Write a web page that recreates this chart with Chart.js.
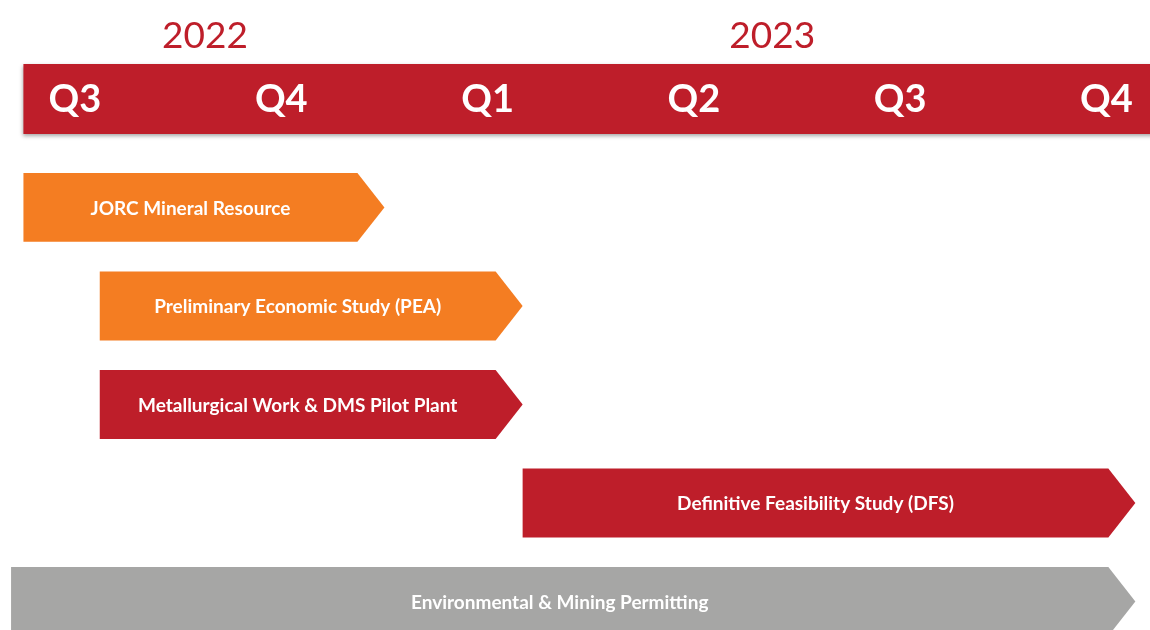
<!DOCTYPE html>
<html>
<head>
<meta charset="utf-8">
<script src="https://cdn.jsdelivr.net/npm/chart.js@4/dist/chart.umd.min.js"></script>
<style>
  html, body { margin: 0; padding: 0; background: #fff; }
  #wrap { width: 1150px; height: 630px; position: relative; }
</style>
</head>
<body>
<div id="wrap"><canvas id="timeline"></canvas></div>
<script>
// Axis: one unit = one quarter, 0 = Q3 2022
const quarters = ['Q3', 'Q4', 'Q1', 'Q2', 'Q3', 'Q4'];
const years = ['2022', '2023'];
const yearAt = [0.63, 3.38];

// Tasks (start / end of arrow tip, in quarters)
const tasks = [
    'JORC Mineral Resource',
    'Preliminary Economic Study (PEA)',
    'Metallurgical Work & DMS Pilot Plant',
    'Definitive Feasibility Study (DFS)',
    'Environmental & Mining Permitting'
];
const starts = [-0.25, 0.12, 0.12, 2.17, -0.31];
const ends = [1.50, 2.17, 2.17, 5.14, 5.14];

const RED = '#BE1E2A';
const ORANGE = '#F47D22';
const GREY = '#A6A6A5';
const taskColors = [ORANGE, ORANGE, RED, RED, GREY];
const TIP = 27; // arrow tip length, px

// red band behind the quarter axis
const bandPlugin = {
    id: 'band',
    beforeDraw(chart) {
        const s = chart.scales.x;
        const ctx = chart.ctx;
        ctx.save();
        ctx.shadowColor = 'rgba(0,0,0,0.35)';
        ctx.shadowBlur = 4;
        ctx.shadowOffsetY = 2;
        ctx.fillStyle = RED;
        const left = s.getPixelForValue(-0.25);
        ctx.fillRect(left, s.top - 1, chart.width - left + 10, s.bottom - s.top + 1);
        ctx.restore();
    }
};

// arrow shaped bars with their labels
const arrowPlugin = {
    id: 'arrows',
    afterDatasetsDraw(chart) {
        const ctx = chart.ctx;
        const meta = chart.getDatasetMeta(0);
        meta.data.forEach((el, i) => {
            const p = el.getProps(['x', 'y', 'base', 'height'], true);
            const top = p.y - p.height / 2;
            const bot = p.y + p.height / 2;
            const neck = p.x - TIP;
            ctx.save();
            ctx.fillStyle = taskColors[i];
            ctx.beginPath();
            ctx.moveTo(p.base, top);
            ctx.lineTo(neck, top);
            ctx.lineTo(p.x, p.y);
            ctx.lineTo(neck, bot);
            ctx.lineTo(p.base, bot);
            ctx.closePath();
            ctx.fill();

            ctx.fillStyle = '#fff';
            ctx.font = 'bold 19px Lato';
            ctx.textAlign = 'center';
            ctx.textBaseline = 'middle';
            ctx.fillText(tasks[i], (p.base + neck) / 2, p.y + 1);
            ctx.restore();
        });
    }
};

const xMin = -0.3635;
const xMax = 5.211;

new Chart(document.getElementById('timeline'), {
    type: 'bar',
    data: {
        datasets: [{
            data: tasks.map((t, i) => ({ x: [starts[i], ends[i]], y: i })),
            backgroundColor: 'rgba(0,0,0,0)',
            barPercentage: 0.875,
            categoryPercentage: 0.8
        }]
    },
    options: {
        indexAxis: 'y',
        responsive: true,
        maintainAspectRatio: false,
        animation: false,
        layout: { padding: { top: 7, left: 0, right: 0, bottom: 0 } },
        plugins: {
            legend: { display: false },
            tooltip: { enabled: false }
        },
        scales: {
            x: {
                type: 'linear',
                position: 'top',
                weight: 0,
                min: xMin,
                max: xMax,
                afterBuildTicks: (s) => { s.ticks = quarters.map((q, i) => ({ value: i })); },
                grid: { display: false, drawTicks: false },
                border: { display: false },
                ticks: {
                    autoSkip: false,
                    maxRotation: 0,
                    padding: 0,
                    color: '#fff',
                    font: { family: 'Lato', weight: 'bold', size: 38, lineHeight: 69 / 38 },
                    callback: (v, i) => quarters[i]
                }
            },
            xYear: {
                type: 'linear',
                position: 'top',
                weight: 1,
                min: xMin,
                max: xMax,
                afterBuildTicks: (s) => { s.ticks = yearAt.map(v => ({ value: v })); },
                grid: { display: false, drawTicks: false },
                border: { display: false },
                ticks: {
                    autoSkip: false,
                    maxRotation: 0,
                    padding: 9,
                    color: RED,
                    font: { family: 'Lato', weight: 'normal', size: 37, lineHeight: 40 / 37 },
                    callback: (v, i) => years[i]
                }
            },
            y: {
                type: 'linear',
                reverse: true,
                offset: false,
                min: -0.745,
                max: 4.29,
                afterBuildTicks: (s) => { s.ticks = tasks.map((t, i) => ({ value: i })); },
                display: false
            }
        }
    },
    plugins: [bandPlugin, arrowPlugin]
});
</script>
</body>
</html>
